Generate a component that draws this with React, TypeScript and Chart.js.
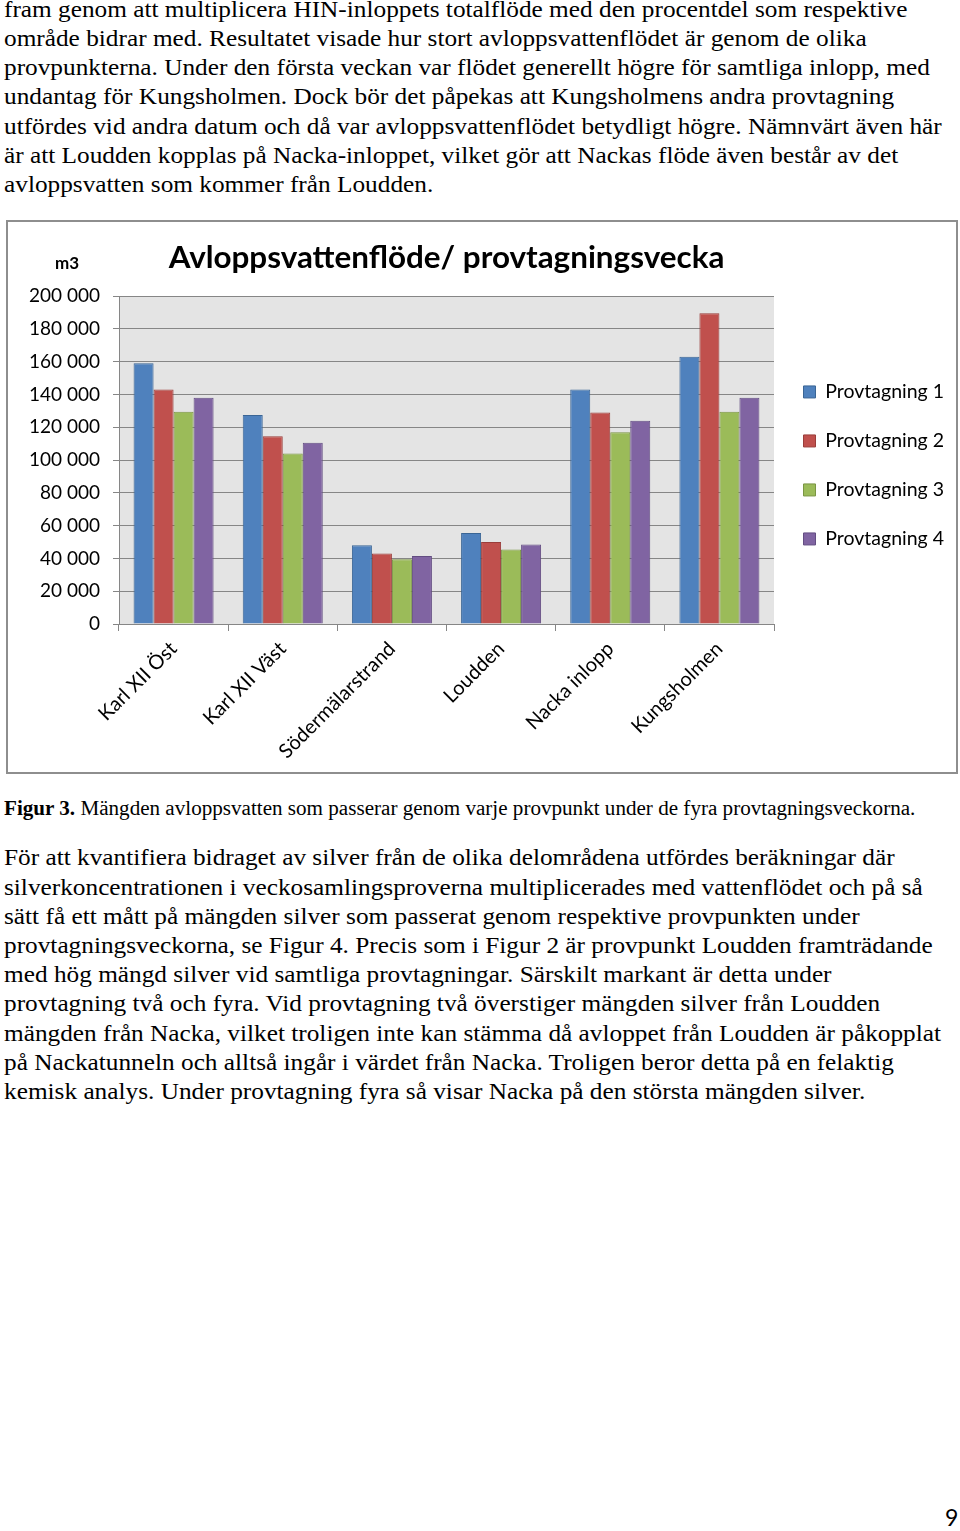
import React, { useEffect, useRef } from "react";
import { Chart, registerables } from "chart.js";

Chart.register(...registerables);

// ---------- data ----------
const categories = ["Karl XII Öst", "Karl XII Väst", "Södermälarstrand", "Loudden", "Nacka inlopp", "Kungsholmen"];
const seriesNames = ["Provtagning 1", "Provtagning 2", "Provtagning 3", "Provtagning 4"];
const provtagning1 = [159000, 127500, 48000, 55500, 143000, 163000];
const provtagning2 = [143000, 114500, 43000, 50000, 129000, 189500];
const provtagning3 = [129500, 104000, 39500, 45500, 117000, 129500];
const provtagning4 = [138000, 110500, 41500, 48500, 124000, 138000];
const yMin = 0;
const yMax = 200000;
const yStep = 20000;
const fillColors = ["#4F81BD", "#C0504D", "#9BBB59", "#8064A2"];
const borderColors = ["#3A6595", "#9A3D3A", "#7A9543", "#634D82"];

const chartTitle = "Avloppsvattenflöde/ provtagningsvecka";
const yUnit = "m3";

const topParagraph = [
  "fram genom att multiplicera HIN-inloppets totalflöde med den procentdel som respektive",
  "område bidrar med. Resultatet visade hur stort avloppsvattenflödet är genom de olika",
  "provpunkterna. Under den första veckan var flödet generellt högre för samtliga inlopp, med",
  "undantag för Kungsholmen. Dock bör det påpekas att Kungsholmens andra provtagning",
  "utfördes vid andra datum och då var avloppsvattenflödet betydligt högre. Nämnvärt även här",
  "är att Loudden kopplas på Nacka-inloppet, vilket gör att Nackas flöde även består av det",
  "avloppsvatten som kommer från Loudden.",
];
const captionBold = "Figur 3.";
const captionText = " Mängden avloppsvatten som passerar genom varje provpunkt under de fyra provtagningsveckorna.";
const bottomParagraph = [
  "För att kvantifiera bidraget av silver från de olika delområdena utfördes beräkningar där",
  "silverkoncentrationen i veckosamlingsproverna multiplicerades med vattenflödet och på så",
  "sätt få ett mått på mängden silver som passerat genom respektive provpunkten under",
  "provtagningsveckorna, se Figur 4. Precis som i Figur 2 är provpunkt Loudden framträdande",
  "med hög mängd silver vid samtliga provtagningar. Särskilt markant är detta under",
  "provtagning två och fyra. Vid provtagning två överstiger mängden silver från Loudden",
  "mängden från Nacka, vilket troligen inte kan stämma då avloppet från Loudden är påkopplat",
  "på Nackatunneln och alltså ingår i värdet från Nacka. Troligen beror detta på en felaktig",
  "kemisk analys. Under provtagning fyra så visar Nacka på den största mängden silver.",
];
const pageNumber = "9";

const seriesValues = [provtagning1, provtagning2, provtagning3, provtagning4];

const fmt = (v: number) => String(v).replace(/\B(?=(\d{3})+(?!\d))/g, " ");

const CHART_FONT = "Lato, 'Open Sans', sans-serif";

const plotBgPlugin = {
  id: "plotBg",
  beforeDraw(chart: any) {
    const { ctx, chartArea } = chart;
    ctx.save();
    ctx.fillStyle = "#e4e4e4";
    ctx.fillRect(chartArea.left, chartArea.top, chartArea.right - chartArea.left, chartArea.bottom - chartArea.top);
    ctx.restore();
  },
};

const unitPlugin = {
  id: "unitLabel",
  afterDraw(chart: any) {
    const { ctx } = chart;
    const ys = chart.scales.y;
    ctx.save();
    ctx.font = `bold 17px ${CHART_FONT}`;
    ctx.fillStyle = "#000";
    ctx.textAlign = "center";
    ctx.textBaseline = "middle";
    ctx.fillText(yUnit, ys.left + 59, ys.top - 33);
    ctx.restore();
  },
};

function ChartBox() {
  const ref = useRef<HTMLCanvasElement | null>(null);
  useEffect(() => {
    if (!ref.current) return;
    const chart = new Chart(ref.current, {
      type: "bar",
      data: {
        labels: categories,
        datasets: seriesValues.map((vals, i) => ({
          label: seriesNames[i],
          data: vals,
          backgroundColor: fillColors[i],
          borderColor: borderColors[i],
          borderWidth: 1,
          categoryPercentage: 0.733,
          barPercentage: 1.0,
        })),
      },
      options: {
        animation: false,
        responsive: false,
        maintainAspectRatio: false,
        layout: { padding: { left: 0, right: 12, top: 0, bottom: 0 } },
        plugins: {
          title: {
            display: true,
            text: chartTitle,
            fullSize: false,
            color: "#000",
            font: { family: CHART_FONT, size: 31.4, weight: "bold" },
            padding: { top: 17.2, bottom: 19.2 },
          },
          legend: {
            position: "right",
            fullSize: false,
            maxWidth: 170,
            title: { display: true, text: " ", font: { size: 9 }, padding: 0 },
            labels: {
              color: "#000",
              font: { family: CHART_FONT, size: 19.5 },
              boxWidth: 12,
              boxHeight: 12,
              padding: 29.5,
            },
          },
          tooltip: { enabled: false },
        },
        scales: {
          x: {
            offset: true,
            grid: { display: true, drawOnChartArea: false, offset: true, tickLength: 7, color: "#868686" },
            border: { display: true, color: "#868686" },
            ticks: {
              color: "#000",
              font: { family: CHART_FONT, size: 20 },
              maxRotation: 45,
              minRotation: 45,
              autoSkip: false,
              padding: 6,
            },
            afterFit: (s: any) => {
              s.height = 148;
            },
          },
          y: {
            min: yMin,
            max: yMax,
            grid: { color: "#868686", tickLength: 6 },
            border: { display: true, color: "#868686" },
            ticks: {
              stepSize: yStep,
              color: "#000",
              font: { family: CHART_FONT, size: 19 },
              padding: 13,
              callback: (v: any) => fmt(Number(v)),
            },
            afterFit: (s: any) => {
              s.width = 111;
            },
          },
        },
      },
      plugins: [plotBgPlugin, unitPlugin],
    } as any);
    return () => chart.destroy();
  }, []);
  return (
    <canvas
      ref={ref}
      width={948}
      height={550}
      style={{ position: "absolute", left: 8, top: 222, width: 948, height: 550 }}
    />
  );
}

const textStyle: React.CSSProperties = {
  position: "absolute",
  left: 4,
  fontFamily: "'Liberation Serif', 'Times New Roman', serif",
  fontSize: 24,
  lineHeight: "29.2px",
  color: "#000",
  whiteSpace: "nowrap",
  transform: "scaleX(1.054)",
  transformOrigin: "0 0",
};

export default function App() {
  return (
    <div style={{ position: "absolute", left: 0, top: 0, width: 960, height: 1531, background: "#fff", overflow: "hidden" }}>
      <div style={{ ...textStyle, top: -5.2 }}>
        {topParagraph.map((l, i) => (
          <div key={i}>{l}</div>
        ))}
      </div>
      <div
        style={{
          position: "absolute",
          left: 6,
          top: 220,
          width: 952,
          height: 554,
          border: "2px solid #8e8e8e",
          boxSizing: "border-box",
        }}
      />
      <ChartBox />
      <div style={{ ...textStyle, top: 795.5, fontSize: 20, lineHeight: "24px", transform: "scaleX(1.055)" }}>
        <b>{captionBold}</b>
        {captionText}
      </div>
      <div style={{ ...textStyle, top: 843.3 }}>
        {bottomParagraph.map((l, i) => (
          <div key={i}>{l}</div>
        ))}
      </div>
      <div
        style={{
          position: "absolute",
          left: 945,
          top: 1503,
          fontFamily: "Lato, sans-serif",
          fontSize: 23,
          lineHeight: "28px",
          color: "#000",
        }}
      >
        {pageNumber}
      </div>
    </div>
  );
}
